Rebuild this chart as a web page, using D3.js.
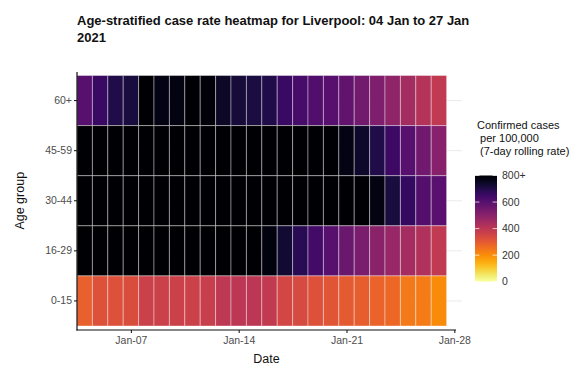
<!DOCTYPE html>
<html>
<head>
<meta charset="utf-8">
<script src="https://cdn.jsdelivr.net/npm/d3@7"></script>
<style>
  html, body { margin: 0; padding: 0; background: #fff; }
  svg { display: block; font-family: "Liberation Sans", Arial, sans-serif; }
</style>
</head>
<body>
<svg id="chart" width="581" height="372"></svg>
<script>
// ---------------- data ----------------
const dates = ["2021-01-04","2021-01-05","2021-01-06","2021-01-07","2021-01-08","2021-01-09",
  "2021-01-10","2021-01-11","2021-01-12","2021-01-13","2021-01-14","2021-01-15",
  "2021-01-16","2021-01-17","2021-01-18","2021-01-19","2021-01-20","2021-01-21",
  "2021-01-22","2021-01-23","2021-01-24","2021-01-25","2021-01-26","2021-01-27"];
const ageGroups = ["60+", "45-59", "30-44", "16-29", "0-15"];
const rate60plus = [600, 655, 700, 715, 830, 770, 775, 810, 785, 745, 720, 710,
  700, 655, 630, 610, 600, 580, 545, 520, 490, 450, 415, 390];
const rate45to59 = [1010, 1030, 1040, 1050, 1080, 1060, 1040, 1020, 990, 960, 940, 920,
  900, 880, 860, 840, 815, 770, 740, 700, 650, 600, 548, 505];
const rate30to44 = [1100, 1120, 1140, 1150, 1170, 1160, 1140, 1110, 1080, 1050, 1010, 980,
  950, 920, 890, 870, 850, 830, 810, 775, 715, 660, 605, 595];
const rate16to29 = [1250, 1260, 1270, 1260, 1250, 1220, 1180, 1120, 1050, 980, 910, 850,
  780, 730, 685, 635, 600, 560, 530, 500, 475, 445, 425, 390];
const rate0to15 = [285, 320, 320, 330, 365, 365, 365, 365, 375, 395, 400, 398,
  385, 350, 340, 320, 310, 300, 290, 280, 270, 235, 232, 205];
const xTickDates = ["2021-01-07", "2021-01-14", "2021-01-21", "2021-01-28"];
const legendBreaks = [0, 200, 400, 600, 800];
const legendLabels = ["0", "200", "400", "600", "800+"];
const titleLines = ["Age-stratified case rate heatmap for Liverpool: 04 Jan to 27 Jan", "2021"];
const legendTitle = ["Confirmed cases", " per 100,000", " (7-day rolling rate)"];

const seriesByGroup = {"60+": rate60plus, "45-59": rate45to59, "30-44": rate30to44,
  "16-29": rate16to29, "0-15": rate0to15};

// ---------------- build ----------------
const parse = d3.utcParse("%Y-%m-%d");
const DAY = 864e5;
const cells = [];
ageGroups.forEach(g => {
  seriesByGroup[g].forEach((v, i) => cells.push({group: g, date: parse(dates[i]), value: v}));
});

const svg = d3.select("#chart");

const x = d3.scaleUtc()
  .domain([new Date(+parse("2021-01-04") - DAY / 2), new Date(+parse("2021-01-28") + DAY * 0.11)])
  .range([77, 456]);
const y = d3.scaleBand().domain(ageGroups).range([75.5, 326]).padding(0);
const color = d3.scaleSequential(t => d3.interpolateInferno(1 - t)).domain([0, 800]).clamp(true);

// gridlines (light)
svg.append("g").selectAll("line").data(ageGroups).join("line")
  .attr("x1", 77).attr("x2", 462)
  .attr("y1", d => y(d) + y.bandwidth() / 2).attr("y2", d => y(d) + y.bandwidth() / 2)
  .attr("stroke", "#ebebeb").attr("stroke-width", 1);

// tiles
svg.append("g").selectAll("rect").data(cells).join("rect")
  .attr("x", d => x(new Date(+d.date - DAY / 2)))
  .attr("width", d => x(new Date(+d.date + DAY / 2)) - x(new Date(+d.date - DAY / 2)))
  .attr("y", d => y(d.group))
  .attr("height", y.bandwidth())
  .attr("fill", d => color(d.value))
  .attr("stroke", "rgba(255,255,255,0.38)")
  .attr("stroke-width", 1);

// axes
const xAxis = d3.axisBottom(x)
  .tickValues(xTickDates.map(parse))
  .tickFormat(d3.utcFormat("%b-%d"))
  .tickSize(3).tickSizeOuter(0).tickPadding(4);
const gx = svg.append("g").attr("transform", "translate(0,330)").call(xAxis);
gx.select(".domain").remove();
gx.selectAll(".tick line").attr("stroke", "#222").attr("stroke-width", 1.1);
gx.selectAll(".tick text").attr("fill", "#4d4d4d").style("font-size", "10.5px")
  .style("font-family", "Liberation Sans, Arial, sans-serif");

const yAxis = d3.axisLeft(y).tickSize(3).tickSizeOuter(0).tickPadding(2);
const gy = svg.append("g").attr("transform", "translate(77,0)").call(yAxis);
gy.select(".domain").remove();
gy.selectAll(".tick line").attr("stroke", "#222").attr("stroke-width", 1.1);
gy.selectAll(".tick text").attr("fill", "#4d4d4d").style("font-size", "10.5px")
  .style("font-family", "Liberation Sans, Arial, sans-serif");

// axis lines
svg.append("line").attr("x1", 77).attr("x2", 77).attr("y1", 72).attr("y2", 330.5)
  .attr("stroke", "#111").attr("stroke-width", 1.2);
svg.append("line").attr("x1", 76.4).attr("x2", 456).attr("y1", 330).attr("y2", 330)
  .attr("stroke", "#111").attr("stroke-width", 1.2);

// axis titles
svg.append("text").attr("x", (77 + 456) / 2).attr("y", 363).attr("text-anchor", "middle")
  .attr("fill", "#111").style("font-size", "12.5px").text("Date");
svg.append("text").attr("transform", "translate(24," + ((75.5 + 326) / 2) + ") rotate(-90)")
  .attr("text-anchor", "middle").attr("fill", "#111").style("font-size", "12.5px").text("Age group");

// title
svg.append("g").selectAll("text").data(titleLines).join("text")
  .attr("x", 77).attr("y", (d, i) => 24.5 + i * 17)
  .attr("fill", "#111").style("font-size", "13px").style("font-weight", "bold").text(d => d);

// legend
svg.append("g").selectAll("text").data(legendTitle).join("text")
  .attr("x", 477).attr("y", (d, i) => 129 + i * 13)
  .attr("fill", "#111").style("font-size", "11px").style("white-space", "pre")
  .attr("xml:space", "preserve").text(d => d);

const ly = d3.scaleLinear().domain([0, 800]).range([281.7, 175.5]);
const defs = svg.append("defs");
const grad = defs.append("linearGradient").attr("id", "cbar")
  .attr("x1", 0).attr("x2", 0).attr("y1", 1).attr("y2", 0);
d3.range(0, 1.0001, 0.05).forEach(t => {
  grad.append("stop").attr("offset", t).attr("stop-color", color(t * 800));
});
svg.append("rect").attr("x", 475).attr("y", ly(800)).attr("width", 22)
  .attr("height", ly(0) - ly(800)).attr("fill", "url(#cbar)");
const lt = svg.append("g");
legendBreaks.forEach((b, i) => {
  lt.append("line").attr("x1", 475).attr("x2", 479.4).attr("y1", ly(b)).attr("y2", ly(b))
    .attr("stroke", "rgba(255,255,255,0.7)").attr("stroke-width", 1);
  lt.append("line").attr("x1", 492.6).attr("x2", 497).attr("y1", ly(b)).attr("y2", ly(b))
    .attr("stroke", "rgba(255,255,255,0.7)").attr("stroke-width", 1);
  lt.append("text").attr("x", 502).attr("y", ly(b)).attr("dy", "0.35em")
    .attr("fill", "#333").style("font-size", "10.5px").text(legendLabels[i]);
});
</script>
</body>
</html>
